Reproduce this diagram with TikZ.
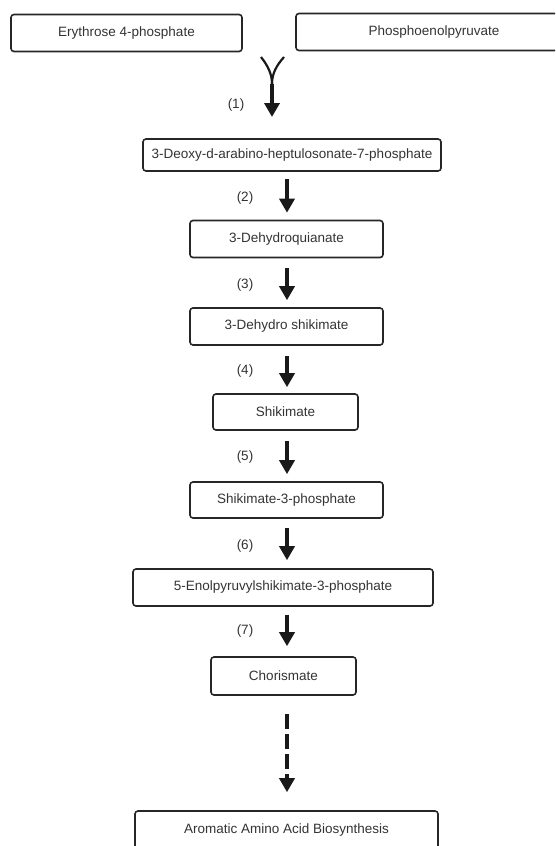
\documentclass[tikz,border=0pt]{standalone}
\usepackage{fontspec}
\setmainfont{Liberation Sans}
\usetikzlibrary{arrows.meta}
\begin{document}
\begin{tikzpicture}[x=1pt,y=-1pt,
  box/.style={draw=black!85,line width=1.6pt,rounded corners=3pt,minimum height=37pt,inner sep=0pt,font=\fontsize{13.5}{15}\selectfont,text=black!80},
  arr/.style={line width=3.5pt,black!90,-{Triangle[width=15pt,length=14pt]}},
  darr/.style={arr,line width=4.5pt,dash pattern=on 15pt off 5pt},
  lab/.style={font=\fontsize{13.5}{15}\selectfont,text=black!80,inner sep=0pt}]
\useasboundingbox (0,0) rectangle (555,846);
\clip (0,0) rectangle (555,846);
\node[box,minimum width=231pt] (e4p) at (126.5,33) {Erythrose 4-phosphate};
\node[box,minimum width=276pt] (pep) at (434,32) {Phosphoenolpyruvate};
\node[box,minimum width=298pt,minimum height=32pt] (dahp) at (292,155) {3-Deoxy-d-arabino-heptulosonate-7-phosphate};
\node[box,minimum width=193pt] (dhq) at (286.5,239) {3-Dehydroquianate};
\node[box,minimum width=193pt] (dhs) at (286.5,326.5) {3-Dehydro shikimate};
\node[box,minimum width=145pt,minimum height=36pt] (shk) at (285.5,412) {Shikimate};
\node[box,minimum width=193pt,minimum height=36pt] (s3p) at (286.5,500) {Shikimate-3-phosphate};
\node[box,minimum width=300pt] (epsp) at (283,587.5) {5-Enolpyruvylshikimate-3-phosphate};
\node[box,minimum width=145pt,minimum height=38pt] (cho) at (283.5,676) {Chorismate};
\node[box,minimum width=303pt,minimum height=38pt] (aaa) at (286.5,830) {Aromatic Amino Acid Biosynthesis};
% merge
\coordinate (ml) at (261,57);
\coordinate (mr) at (284,57);
\coordinate (mj) at (272,84);
\coordinate (m1) at (272,117);
\draw[line width=2.2pt,black!90] (ml) .. controls (268,66) and (272,74) .. (mj);
\draw[line width=2.2pt,black!90] (mr) .. controls (276,66) and (272,74) .. (mj);
\draw[arr] (mj) -- (m1);
\node[lab] (l1) at (236,105) {(1)};
% step arrows
\coordinate (ax) at (287,0);
\draw[arr] ([yshift=-7pt]dahp.south -| ax) -- ([yshift=7pt]dhq.north -| ax);
\draw[arr] ([yshift=-10pt]dhq.south -| ax) -- ([yshift=7pt]dhs.north -| ax);
\draw[arr] ([yshift=-10pt]dhs.south -| ax) -- ([yshift=6pt]shk.north -| ax);
\draw[arr] ([yshift=-10pt]shk.south -| ax) -- ([yshift=7pt]s3p.north -| ax);
\draw[arr] ([yshift=-9pt]s3p.south -| ax) -- ([yshift=8pt]epsp.north -| ax);
\draw[arr] ([yshift=-8pt]epsp.south -| ax) -- ([yshift=10pt]cho.north -| ax);
\draw[darr] ([yshift=-18pt]cho.south -| ax) -- ([yshift=18pt]aaa.north -| ax);
\node[lab] (l2) at (245,198) {(2)};
\node[lab] (l3) at (245,285) {(3)};
\node[lab] (l4) at (245,371) {(4)};
\node[lab] (l5) at (245,457) {(5)};
\node[lab] (l6) at (245,546) {(6)};
\node[lab] (l7) at (245,631) {(7)};
\end{tikzpicture}
\end{document}
